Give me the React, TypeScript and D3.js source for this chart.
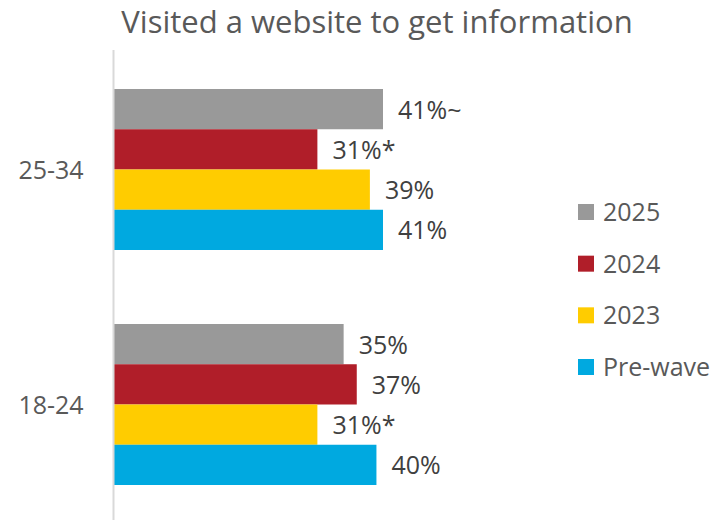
import React from "react";
import * as d3 from "d3";

const title = "Visited a website to get information";
const categories = ["25-34", "18-24"];
const seriesNames = ["2025", "2024", "2023", "Pre-wave"];
const seriesColors = ["#999999", "#B01E29", "#FFCC00", "#00A9E0"];
const values2025 = [41, 35];
const values2024 = [31, 37];
const values2023 = [39, 31];
const valuesPreWave = [41, 40];
const labels2025 = ["41%~", "35%"];
const labels2024 = ["31%*", "37%"];
const labels2023 = ["39%", "31%*"];
const labelsPreWave = ["41%", "40%"];

const seriesValues = [values2025, values2024, values2023, valuesPreWave];
const seriesLabels = [labels2025, labels2024, labels2023, labelsPreWave];

const W = 728;
const H = 520;
const FONT = "'Open Sans', 'Noto Sans', sans-serif";

export default function App() {
  const plotLeft = 114;
  const plotTop = 52;
  const plotBottom = 522;
  const x = d3.scaleLinear().domain([0, 41]).range([plotLeft, 383]);
  const y = d3
    .scaleBand<string>()
    .domain(categories)
    .range([plotTop, plotBottom])
    .paddingInner(74 / 235)
    .paddingOuter(37 / 235);
  const inner = d3
    .scaleBand<string>()
    .domain(seriesNames)
    .range([0, y.bandwidth()]);

  const legendY = d3.scalePoint<string>().domain(seriesNames).range([212, 367]);

  return (
    <svg width={W} height={H} style={{ position: "absolute", left: 0, top: 0 }}>
      <rect x={0} y={0} width={W} height={H} fill="#ffffff" />
      <text
        x={377}
        y={33}
        textAnchor="middle"
        fontFamily={FONT}
        fontSize={31}
        fill="#595959"
      >
        {title}
      </text>
      {categories.map((c, ci) => (
        <g key={c}>
          {seriesNames.map((s, si) => {
            const v = seriesValues[si][ci];
            const yy = (y(c) as number) + (inner(s) as number);
            return (
              <g key={s}>
                <rect
                  x={x(0)}
                  y={yy}
                  width={x(v) - x(0)}
                  height={inner.bandwidth()}
                  fill={seriesColors[si]}
                />
                <text
                  x={x(v) + 15}
                  y={yy + inner.bandwidth() / 2}
                  dy="0.38em"
                  fontFamily={FONT}
                  fontSize={25}
                  fill="#404040"
                >
                  {seriesLabels[si][ci]}
                </text>
              </g>
            );
          })}
          <text
            x={51}
            y={(y(c) as number) + y.bandwidth() / 2}
            dy="0.38em"
            textAnchor="middle"
            fontFamily={FONT}
            fontSize={25}
            fill="#595959"
          >
            {c}
          </text>
        </g>
      ))}
      <line
        x1={113.5}
        x2={113.5}
        y1={plotTop - 2}
        y2={H}
        stroke="#d9d9d9"
        strokeWidth={2}
      />
      {seriesNames.map((s, si) => (
        <g key={s}>
          <rect
            x={578}
            y={(legendY(s) as number) - 8}
            width={16}
            height={16}
            fill={seriesColors[si]}
          />
          <text
            x={603}
            y={legendY(s) as number}
            dy="0.36em"
            fontFamily={FONT}
            fontSize={25}
            fill="#595959"
          >
            {s}
          </text>
        </g>
      ))}
    </svg>
  );
}
